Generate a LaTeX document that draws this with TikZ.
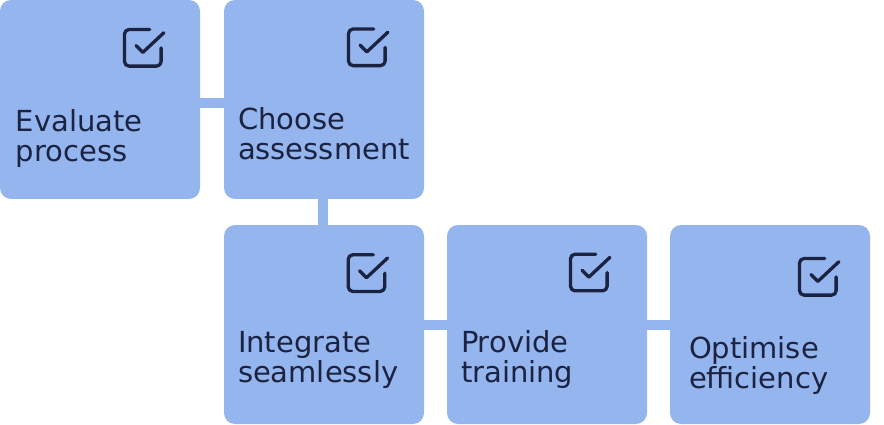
\documentclass[tikz,border=0pt]{standalone}
\usepackage{fontspec}
\setmainfont{DejaVu Sans}
\definecolor{boxblue}{HTML}{95B5EF}
\definecolor{ink}{HTML}{1B2340}
\begin{document}
\begin{tikzpicture}[x=1pt,y=-1pt,
  stepbox/.style={rectangle, fill=boxblue, minimum width=200pt, minimum height=199pt, rounded corners=11pt, inner sep=0pt},
  conn/.style={draw=boxblue, line width=10pt},
  txt/.style={anchor=base west, inner sep=0pt, align=left, text=ink, font=\fontsize{29}{30}\selectfont},
  chk/.pic={\begin{scope}[scale=2.29, line width=3.3pt, line cap=round, line join=round]
     \draw[ink, rounded corners=4.6pt] (16,8) -- (16,16) -- (0,16) -- (0,0) -- (11,0);
     \draw[ink] (5,7) -- (8,10) -- (17.2,1.4);
   \end{scope}}
]
\useasboundingbox (0,0) rectangle (884,425);
% boxes
\node[stepbox] (b1) at (100,99.5) {};
\node[stepbox] (b2) at (324,99.5) {};
\node[stepbox] (b3) at (324,324.5) {};
\node[stepbox] (b4) at (547,324.5) {};
\node[stepbox] (b5) at (770,324.5) {};
% connectors
\draw[conn] ([yshift=-3.5pt]b1.east) -- ([yshift=-3.5pt]b2.west);
\draw[conn] ([xshift=-1pt]b2.south) -- ([xshift=-1pt]b3.north);
\draw[conn] ([yshift=-0.5pt]b3.east) -- ([yshift=-0.5pt]b4.west);
\draw[conn] ([yshift=-0.5pt]b4.east) -- ([yshift=-0.5pt]b5.west);
% icons
\pic at ([shift={(124.7,29.7)}]b1.north west) {chk};
\pic at ([shift={(124.7,29.2)}]b2.north west) {chk};
\pic at ([shift={(124.4,30.0)}]b3.north west) {chk};
\pic at ([shift={(123.7,29.4)}]b4.north west) {chk};
\pic at ([shift={(129.7,33.7)}]b5.north west) {chk};
% texts (anchor = baseline of the last line)
\node[txt] (t1) at ([shift={(16,162)}]b1.north west) {Evaluate\\process};
\node[txt] (t2) at ([shift={(14,160)}]b2.north west) {Choose\\assessment};
\node[txt] (t3) at ([shift={(14,157.5)}]b3.north west) {Integrate\\seamlessly};
\node[txt] (t4) at ([shift={(14,157.5)}]b4.north west) {Provide\\training};
\node[txt] (t5) at ([shift={(19,163.5)}]b5.north west) {Optimise\\efficiency};
\end{tikzpicture}
\end{document}
